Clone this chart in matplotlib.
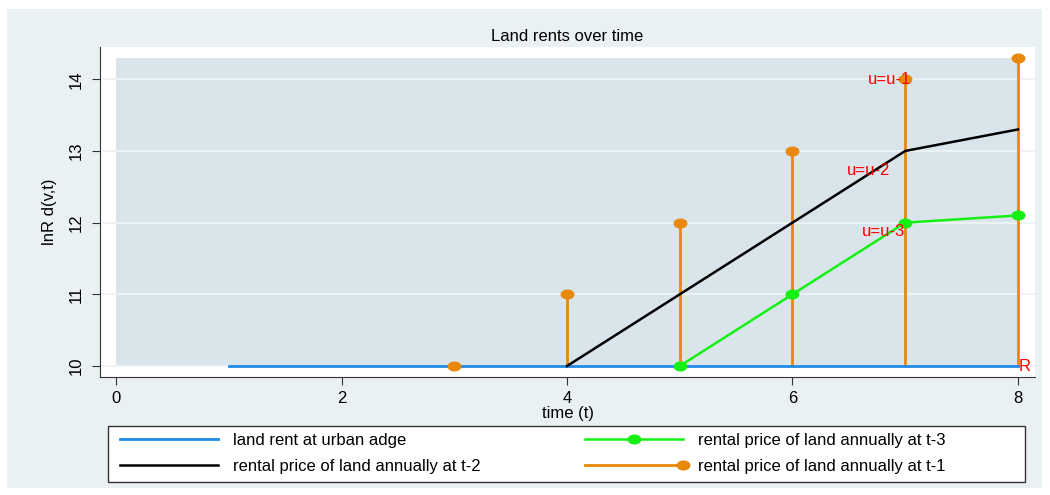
import matplotlib.pyplot as plt
import numpy as np
from matplotlib.path import Path
from matplotlib.patches import Rectangle
from matplotlib.legend_handler import HandlerLine2D

plt.rcParams['font.family'] = ['Liberation Sans', 'DejaVu Sans']

# dados
t_borda = [1, 8]
r_borda = [10, 10]
t_t2 = [4, 5, 6, 7, 8]
r_t2 = [10, 11, 12, 13, 13.3]
t_t3 = [5, 6, 7, 8]
r_t3 = [10, 11, 12, 12.1]
t_t1 = [3, 4, 5, 6, 7, 8]
r_t1 = [10, 11, 12, 13, 14, 14.3]
base = 10

rotulos = ['u=u-1', 'u=u-2', 'u=u-3', 'R']
rotulos_x = [7.05, 6.87, 7.0, 8.01]
rotulos_y = [14.0, 12.73, 11.87, 10.0]
rotulos_ha = ['right', 'right', 'right', 'left']

azul = '#1f8ae8'
verde = '#14f014'
laranja = '#e8880a'
fundo = '#eaf1f3'
area = '#d9e5eb'
fs = 12

# marcador elíptico (mais largo que alto)
ang = np.linspace(0, 2 * np.pi, 60)
elipse = Path(np.column_stack([1.45 * np.cos(ang), np.sin(ang)]))


# na legenda do t-1 o marcador fica no fim da linha
class HandlerFim(HandlerLine2D):
    def create_artists(self, *args, **kwargs):
        artistas = super().create_artists(*args, **kwargs)
        artistas[0].set_markevery([-1])
        return artistas


fig = plt.figure(figsize=(10.5, 4.95), dpi=100)
fig.patch.set_facecolor('white')
fig.patches.append(Rectangle((7 / 1050, 1 - 488 / 495), 1035 / 1050, 479 / 495,
                             transform=fig.transFigure, facecolor=fundo,
                             edgecolor='none', zorder=-10))

ax = fig.add_axes([100 / 1050, 1 - 377 / 495, 935 / 1050, 330 / 495])
ax.set_facecolor('white')
ax.add_patch(Rectangle((0, 10), 8, 4.3, facecolor=area, edgecolor='none', zorder=0))
for y in [10, 11, 12, 13, 14]:
    ax.axhline(y, color='#eef4f6', lw=1.3, zorder=0.5)

l_borda, = ax.plot(t_borda, r_borda, color=azul, lw=2, zorder=3)
l_t3, = ax.plot(t_t3, r_t3, color=verde, lw=1.8, marker=elipse, ms=9, zorder=4)
l_t2, = ax.plot(t_t2, r_t2, color='black', lw=1.8, zorder=4)
ax.vlines(t_t1, base, r_t1, color=laranja, lw=2, zorder=2)
l_t1, = ax.plot(t_t1, r_t1, linestyle='none', color=laranja, marker=elipse, ms=9, zorder=5)
h_t1, = ax.plot([], [], color=laranja, lw=2, marker=elipse, ms=9)

for txt, x, y, ha in zip(rotulos, rotulos_x, rotulos_y, rotulos_ha):
    ax.text(x, y, txt, color='red', fontsize=fs, ha=ha, va='center', zorder=6)

ax.set_xlim(-0.142, 8.151)
ax.set_ylim(9.847, 14.45)
ax.set_xticks([0, 2, 4, 6, 8])
ax.set_yticks([10, 11, 12, 13, 14])
ax.tick_params(axis='both', labelsize=fs, length=6, color='#333333')
ax.tick_params(axis='x', pad=4)
ax.tick_params(axis='y', labelrotation=90, pad=6)
for lab in ax.get_yticklabels():
    lab.set_va('center')
for lado in ['top', 'right']:
    ax.spines[lado].set_visible(False)
ax.spines['left'].set_color('#333333')
ax.spines['bottom'].set_color('#333333')

ax.set_title('Land rents over time', fontsize=fs, pad=4)
ax.set_xlabel('time (t)', fontsize=fs, labelpad=0)
ax.set_ylabel('lnR d(v,t)', fontsize=fs, labelpad=8)

# moldura da legenda e duas colunas
fig.patches.append(Rectangle((108 / 1050, 1 - 482 / 495), 917 / 1050, 56 / 495,
                             transform=fig.transFigure, facecolor='white',
                             edgecolor='#333333', lw=1, zorder=1))
opcoes = dict(loc='upper left', frameon=False, fontsize=fs, handlelength=5.9,
              handletextpad=0.9, borderpad=0, borderaxespad=0, labelspacing=0.63)
fig.legend([l_borda, l_t2],
           ['land rent at urban adge', 'rental price of land annually at t-2'],
           bbox_to_anchor=(120 / 1050, 1 - 433 / 495), **opcoes)
fig.legend([l_t3, h_t1],
           ['rental price of land annually at t-3', 'rental price of land annually at t-1'],
           bbox_to_anchor=(585 / 1050, 1 - 433 / 495),
           handler_map={h_t1: HandlerFim()}, **opcoes)

fig.savefig('out.png', dpi=100, facecolor=fig.get_facecolor())
